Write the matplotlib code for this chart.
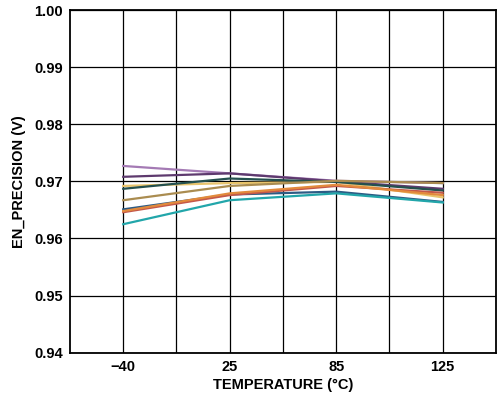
import matplotlib
matplotlib.use("Agg")
import matplotlib.pyplot as plt

# temperature categories and EN_PRECISION readings (V) per device
temps = ["\u221240", "25", "85", "125"]
series_colors = ["#a47ab4", "#5e3a6e", "#e8c46c", "#24504e", "#aa8c50",
                 "#2d5b84", "#c4584a", "#e28a3c", "#22a6aa"]
series_values = [
    [0.9727, 0.9714, 0.9701, 0.9697],
    [0.9708, 0.9714, 0.9700, 0.9687],
    [0.9692, 0.9697, 0.9699, 0.9672],
    [0.9687, 0.9705, 0.9699, 0.9684],
    [0.9667, 0.9692, 0.9701, 0.9697],
    [0.9651, 0.9677, 0.9682, 0.9664],
    [0.9646, 0.9676, 0.9692, 0.9680],
    [0.9648, 0.9679, 0.9694, 0.9676],
    [0.9625, 0.9667, 0.9679, 0.9663],
]
y_ticks = [0.94, 0.95, 0.96, 0.97, 0.98, 0.99, 1.00]

plt.rcParams["font.family"] = ["Liberation Sans", "DejaVu Sans"]

fig = plt.figure(figsize=(5.01, 3.93), dpi=100)
ax = fig.add_axes([0.1397, 0.1025, 0.8503, 0.872])

xpos = [1, 3, 5, 7]
for vals, col in zip(series_values, series_colors):
    ax.plot(xpos, vals, color=col, linewidth=1.6)

ax.set_xlim(0, 8)
ax.set_ylim(0.94, 1.00)
ax.set_yticks(y_ticks)
ax.set_yticklabels([f"{v:.2f}" for v in y_ticks], fontsize=10.5, fontweight="bold")
ax.set_xticks(xpos)
ax.set_xticklabels(temps, fontsize=10.5, fontweight="bold")
ax.tick_params(length=0, pad=5)
# vertical grid at every half-step between temperature columns
for gx in range(1, 8):
    ax.axvline(gx, color="black", linewidth=0.9, zorder=0)
ax.grid(True, axis="y", color="black", linewidth=0.9)
ax.set_axisbelow(True)
for s in ax.spines.values():
    s.set_linewidth(1.3)

ax.set_xlabel("TEMPERATURE (\u00b0C)", fontsize=10.5, fontweight="bold", labelpad=3)
ax.set_ylabel("EN_PRECISION (V)", fontsize=10.5, fontweight="bold", labelpad=6)

fig.savefig("out.png", dpi=100)
